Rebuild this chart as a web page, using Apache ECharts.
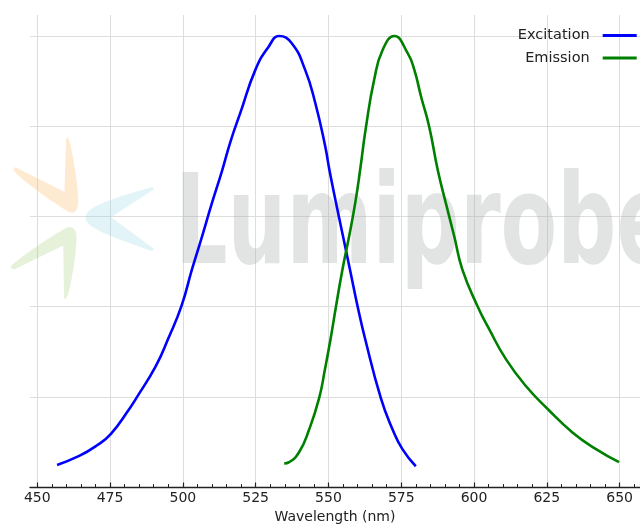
<!DOCTYPE html>
<html>
<head>
<meta charset="utf-8">
<script src="https://cdn.jsdelivr.net/npm/echarts@6/dist/echarts.min.js"></script>
<style>
html,body{margin:0;padding:0;background:#fff;}
#chart{width:640px;height:529px;}
</style>
</head>
<body>
<div id="chart"></div>
<script>
// Excitation spectrum (wavelength nm, normalized intensity)
const exWl  = [456.8, 464.4, 470.2, 475.3, 481.6, 483.8, 490.7, 495.1, 499.5, 503.1, 506.6, 510.0, 513.4, 516.3, 519.7, 524.9, 529.4, 533.1, 537.4, 542.0, 545.5, 548.9, 550.3, 552.6, 555.0, 557.4, 560.0, 562.5, 568.0, 572.0, 575.4, 580.0];
const exVal = [0.049, 0.069, 0.091, 0.118, 0.173, 0.195, 0.268, 0.331, 0.401, 0.482, 0.556, 0.630, 0.700, 0.765, 0.829, 0.925, 0.976, 1.000, 0.984, 0.925, 0.851, 0.755, 0.704, 0.630, 0.556, 0.482, 0.401, 0.331, 0.197, 0.128, 0.084, 0.046];
// Emission spectrum
const emWl  = [534.8, 536.5, 539.9, 543.4, 546.8, 548.8, 550.8, 552.6, 554.8, 557.1, 559.2, 560.9, 562.9, 565.7, 568.6, 572.6, 577.2, 579.5, 581.8, 584.6, 587.5, 590.3, 593.2, 596.0, 601.2, 605.2, 611.0, 617.8, 625.3, 633.8, 641.9, 649.8];
const emVal = [0.052, 0.055, 0.077, 0.128, 0.197, 0.261, 0.331, 0.401, 0.482, 0.556, 0.630, 0.704, 0.799, 0.903, 0.969, 1.000, 0.962, 0.925, 0.866, 0.799, 0.704, 0.630, 0.556, 0.482, 0.401, 0.350, 0.283, 0.224, 0.173, 0.121, 0.084, 0.055];
const seriesNames = ['Excitation', 'Emission'];
const xMajorTicks = [450, 475, 500, 525, 550, 575, 600, 625, 650];
const yGridValues = [0.2, 0.4, 0.6, 0.8, 1.0];
const xMinorTicks = [];
for (let v = 450; v <= 655; v += 5) xMinorTicks.push(v);

const FONT = 'DejaVu Sans';
const exData = exWl.map((w, i) => [w, exVal[i]]);
const emData = emWl.map((w, i) => [w, emVal[i]]);

// watermark logo outlines: start point, then segments (cubic: [c1x,c1y,c2x,c2y,x,y], line: [x,y])
function outline(start, segs) {
  const pts = [start.slice()];
  let cur = start.slice();
  segs.forEach(s => {
    if (s.length === 2) { pts.push(s.slice()); cur = s.slice(); }
    else {
      for (let k = 1; k <= 12; k++) {
        const t = k / 12, u = 1 - t;
        pts.push([
          u*u*u*cur[0] + 3*u*u*t*s[0] + 3*u*t*t*s[2] + t*t*t*s[4],
          u*u*u*cur[1] + 3*u*u*t*s[1] + 3*u*t*t*s[3] + t*t*t*s[5]
        ]);
      }
      cur = [s[4], s[5]];
    }
  });
  return pts;
}
const logoOrange = outline([67.5,136.5], [[71,140,80,195,78,205],[77,213,72,214,67,211],[45,197,22,180,15,172],[12,168,15,166,18,168.5],[64.5,192],[66,140]]);
const logoCyan = outline([111,217.3], [[151.5,191],[155,189,154,186.5,150.5,187.5],[120,196,92,205,87,213],[85,217,85,219,87,222],[92,230,120,240,150.5,250.5],[154,251.5,155,249,151.5,247]]);
const logoGreen = outline([66,298.5], [[70,295,77,250,76.5,236],[76,228,71,225,65,228.5],[45,240,24,255,13,264],[9,267,11,270,15,269],[63.3,245.5],[64,296],[64,299,65,299.5,66,298.5]]);

const chart = echarts.init(document.getElementById('chart'), null, {renderer: 'canvas'});
const XMIN = 447.5, XMAX = 657.0;

chart.setOption({
  animation: false,
  backgroundColor: '#ffffff',
  grid: {left: 30, right: 0, top: 15, bottom: 39.3, containLabel: false},
  graphic: [
    {type: 'polygon', z: 1, silent: true, shape: {points: logoOrange}, style: {fill: 'rgba(250,190,110,0.32)'}},
    {type: 'polygon', z: 1, silent: true, shape: {points: logoCyan}, style: {fill: 'rgba(150,215,225,0.28)'}},
    {type: 'polygon', z: 1, silent: true, shape: {points: logoGreen}, style: {fill: 'rgba(165,205,120,0.28)'}},
    {type: 'text', z: 1, silent: true, x: 175, y: 231, scaleX: 0.666, scaleY: 1,
     style: {text: 'Lumiprobe', fontSize: 124, fontFamily: FONT, fontWeight: 'bold',
             fill: 'rgba(165,168,168,0.32)', align: 'left', verticalAlign: 'middle'}}
  ],
  legend: {
    data: seriesNames,
    orient: 'vertical',
    right: 3.3,
    top: 27.5,
    padding: 0,
    align: 'right',
    icon: 'rect',
    itemWidth: 34,
    itemHeight: 3,
    itemGap: 6.6,
    textStyle: {fontFamily: FONT, fontSize: 14.5, color: '#222', lineHeight: 16, padding: [0, 8, 0, 0]}
  },
  xAxis: [
    {
      type: 'value', min: XMIN, max: XMAX, position: 'bottom',
      name: 'Wavelength (nm)', nameLocation: 'middle', nameGap: 23,
      nameTextStyle: {fontFamily: FONT, fontSize: 14, color: '#222'},
      axisLine: {show: true, onZero: false, lineStyle: {color: '#222', width: 1.3}},
      axisTick: {show: true, inside: true, length: 4.5, customValues: xMajorTicks, lineStyle: {color: '#222', width: 1.2}},
      axisLabel: {show: true, margin: 4, customValues: xMajorTicks, fontFamily: FONT, fontSize: 14, color: '#222'},
      splitLine: {show: true, lineStyle: {color: '#dddddd', width: 1}},
      minorTick: {show: false}
    },
    {
      type: 'value', min: XMIN, max: XMAX, position: 'bottom', gridIndex: 0,
      axisLine: {show: false},
      axisTick: {show: true, inside: true, length: 3, customValues: xMinorTicks, lineStyle: {color: '#222', width: 1}},
      axisLabel: {show: false},
      splitLine: {show: false}
    }
  ],
  yAxis: {
    type: 'value', min: 0, max: 1.0467,
    axisLine: {show: false},
    axisTick: {show: false, customValues: yGridValues},
    axisLabel: {show: false, customValues: yGridValues},
    splitLine: {show: true, lineStyle: {color: '#dddddd', width: 1}}
  },
  series: [
    {
      name: seriesNames[0], type: 'line', xAxisIndex: 0, data: exData,
      showSymbol: false, smooth: 0.5, z: 3,
      lineStyle: {color: '#0000ff', width: 2.6}, itemStyle: {color: '#0000ff'}
    },
    {
      name: seriesNames[1], type: 'line', xAxisIndex: 0, data: emData,
      showSymbol: false, smooth: 0.5, z: 3,
      lineStyle: {color: '#008000', width: 2.6}, itemStyle: {color: '#008000'}
    }
  ]
});
</script>
</body>
</html>
